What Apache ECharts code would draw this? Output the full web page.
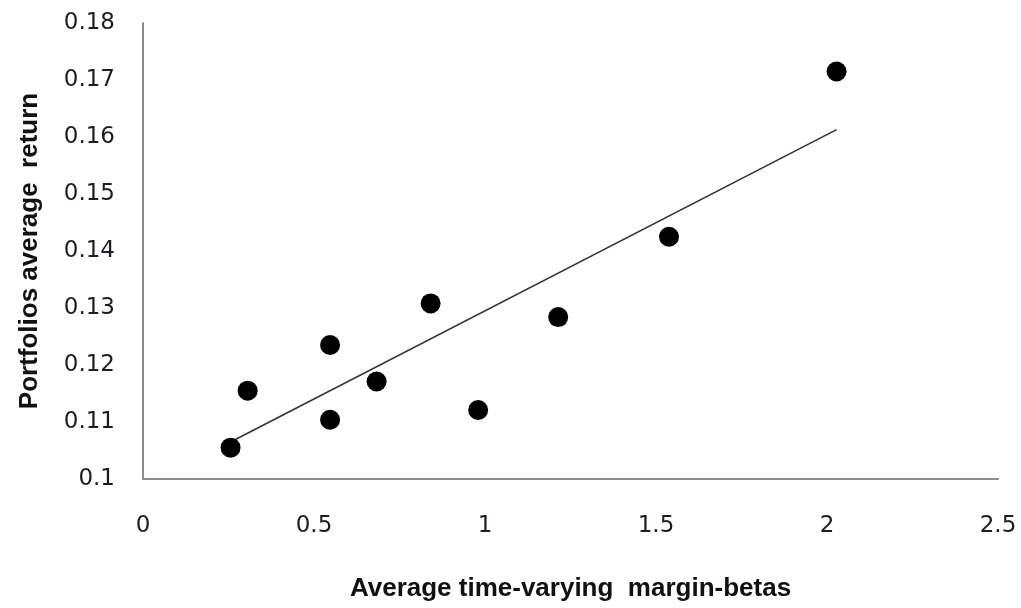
<!DOCTYPE html>
<html>
<head>
<meta charset="utf-8">
<script src="https://cdn.jsdelivr.net/npm/echarts@6/dist/echarts.min.js"></script>
<style>
  html, body { margin: 0; padding: 0; background: #ffffff; }
  #chart { width: 1021px; height: 608px; }
</style>
</head>
<body>
<div id="chart"></div>
<script>
// Portfolio betas (x) and average returns (y)
const betas   = [0.256, 0.306, 0.547, 0.547, 0.683, 0.841, 0.980, 1.214, 1.538, 2.028];
const returns = [0.1055, 0.1155, 0.1235, 0.1104, 0.1171, 0.1308, 0.1121, 0.1284, 0.1425, 0.1715];

// Fitted linear trend, endpoints
const trendX = [0.256, 2.028];
const trendY = [0.1065, 0.1613];

const xTicks = { min: 0, max: 2.5, interval: 0.5 };
const yTicks = { min: 0.1, max: 0.18, interval: 0.01 };

const points = betas.map((b, i) => [b, returns[i]]);
const trend = trendX.map((b, i) => [b, trendY[i]]);

const labelFont = { fontFamily: 'DejaVu Sans', fontSize: 23, color: '#1c1c28' };
const nameFont = { fontFamily: 'Liberation Sans', fontWeight: 'bold', fontSize: 26, color: '#111111' };

const chart = echarts.init(document.getElementById('chart'), null, { renderer: 'canvas' });
chart.setOption({
  backgroundColor: '#ffffff',
  animation: false,
  grid: { left: 143, right: 23, top: 23, bottom: 129 },
  xAxis: {
    type: 'value',
    min: xTicks.min, max: xTicks.max, interval: xTicks.interval,
    name: 'Average time-varying  margin-betas',
    nameLocation: 'middle',
    nameGap: 97,
    nameTextStyle: nameFont,
    axisLine: { show: true, lineStyle: { color: '#8c8c8c', width: 2 } },
    axisTick: { show: false },
    splitLine: { show: false },
    axisLabel: Object.assign({ margin: 36, formatter: v => String(+v.toFixed(2)) }, labelFont)
  },
  yAxis: {
    type: 'value',
    min: yTicks.min, max: yTicks.max, interval: yTicks.interval,
    name: 'Portfolios average  return',
    nameLocation: 'middle',
    nameGap: 100,
    nameTextStyle: nameFont,
    axisLine: { show: true, lineStyle: { color: '#8c8c8c', width: 2 } },
    axisTick: { show: false },
    splitLine: { show: false },
    axisLabel: Object.assign({ margin: 28, formatter: v => String(+v.toFixed(2)) }, labelFont)
  },
  series: [
    {
      type: 'line',
      data: trend,
      symbol: 'none',
      lineStyle: { color: '#333333', width: 1.6 },
      z: 2
    },
    {
      type: 'scatter',
      data: points,
      symbol: 'circle',
      symbolSize: 20,
      itemStyle: { color: '#000000', opacity: 1 },
      z: 3
    }
  ]
});
</script>
</body>
</html>
